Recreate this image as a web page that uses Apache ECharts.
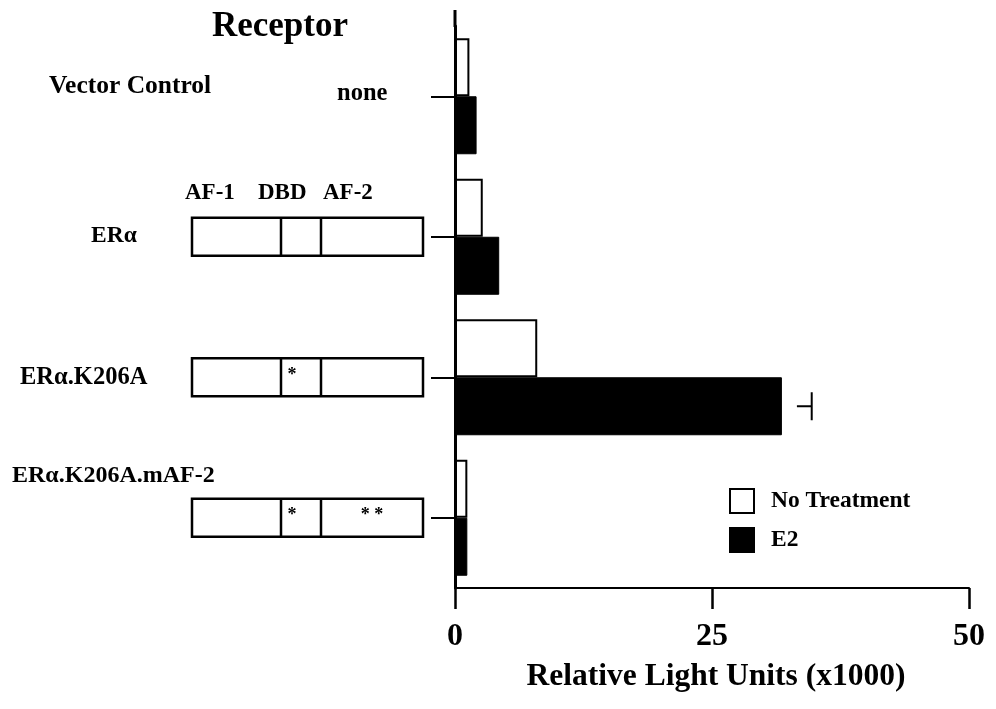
<!DOCTYPE html>
<html>
<head>
<meta charset="utf-8">
<script src="https://cdn.jsdelivr.net/npm/echarts@6/dist/echarts.min.js"></script>
<style>html,body{margin:0;padding:0;background:#fff}#c{width:996px;height:709px}</style>
</head>
<body>
<div id="c"></div>
<script>
// ---- data ----
var categories = ['Vector Control', 'ERα', 'ERα.K206A', 'ERα.K206A.mAF-2'];
var noTreatment = [1.4, 2.7, 8.0, 1.2];
var e2 = [2.1, 4.3, 31.8, 1.2];
var e2ErrorUpper = [null, null, 34.7, null];
var xTicks = [0, 25, 50];
var domainLabels = ['AF-1', 'DBD', 'AF-2'];
var constructMarks = [null, ['', '', ''], ['', '*', ''], ['', '*', '* *']];
var titleText = 'Receptor';
var xName = 'Relative Light Units (x1000)';
var legendNames = ['No Treatment', 'E2'];

var FONT = '"Liberation Serif", "Times New Roman", serif';
var chart = echarts.init(document.getElementById('c'));

var errData = [];
e2ErrorUpper.forEach(function (u, i) { if (u != null) errData.push([i, e2[i], u]); });

chart.setOption({
  animation: false,
  backgroundColor: '#fff',
  grid: { left: 455, right: 27, top: 26, bottom: 121, containLabel: false },
  legend: {
    data: legendNames,
    orient: 'vertical',
    left: 724, top: 483,
    itemWidth: 24, itemHeight: 24, itemGap: 13,
    icon: 'rect',
    textStyle: { fontFamily: FONT, fontWeight: 'bold', fontSize: 23.5, color: '#000', padding: [0, 0, 0, 12] }
  },
  xAxis: {
    type: 'value', min: xTicks[0], max: xTicks[xTicks.length - 1], interval: 25,
    axisLine: { show: true, lineStyle: { color: '#000', width: 2 } },
    axisTick: { show: true, inside: false, length: 21, lineStyle: { color: '#000', width: 2.5 } },
    splitLine: { show: false },
    axisLabel: { fontFamily: FONT, fontWeight: 'bold', fontSize: 32, color: '#000', margin: 33 },
    name: xName, nameLocation: 'middle', nameGap: 73,
    nameTextStyle: { fontFamily: FONT, fontWeight: 'bold', fontSize: 31.5, color: '#000', padding: [0, 0, 0, 8] }
  },
  yAxis: {
    type: 'category', data: categories, inverse: true,
    axisLine: { show: true, lineStyle: { color: '#000', width: 3 } },
    axisTick: { show: true, alignWithLabel: true, length: 24, lineStyle: { color: '#000', width: 2 } },
    axisLabel: { show: false },
    splitLine: { show: false }
  },
  series: [
    { name: legendNames[0], type: 'bar', data: noTreatment, barWidth: 58, barGap: '0%',
      itemStyle: { color: '#fff', borderColor: '#000', borderWidth: 2 } },
    { name: legendNames[1], type: 'bar', data: e2, barWidth: 58, barGap: '0%',
      itemStyle: { color: '#000', borderColor: '#000', borderWidth: 1 } },
    { type: 'custom', data: errData, encode: { x: [1, 2], y: 0 }, silent: true, z: 5,
      renderItem: function (params, api) {
        var m = api.coord([api.value(1), api.value(0)]);
        var u = api.coord([api.value(2), api.value(0)]);
        var yc = m[1] + 29;
        var st = { stroke: '#000', lineWidth: 2 };
        return { type: 'group', children: [
          { type: 'line', shape: { x1: m[0] + 15, y1: yc, x2: u[0], y2: yc }, style: st },
          { type: 'line', shape: { x1: u[0], y1: yc - 14, x2: u[0], y2: yc + 14 }, style: st }
        ] };
      } }
  ]
});

function py(i) { return chart.convertToPixel({ yAxisIndex: 0 }, categories[i]); }
var g = [];
var txt = function (x, y, t, size, align) {
  return { type: 'text', x: x, y: y, style: { text: t, fontFamily: FONT, fontWeight: 'bold', fontSize: size, fill: '#000', align: align || 'left', verticalAlign: 'middle' } };
};
// y axis extension above grid
var top0 = py(0) - (py(1) - py(0)) / 2;
g.push({ type: 'line', shape: { x1: 455, y1: 10, x2: 455, y2: top0 + 1 }, style: { stroke: '#000', lineWidth: 3 } });
g.push(txt(280, 27, titleText, 35, 'center'));
g.push(txt(49, py(0) - 10, categories[0], 25.5));
g.push(txt(337, py(0) - 3, 'none', 24.5));
g.push(txt(91, py(1) - 1, categories[1], 23.5));
g.push(txt(20, py(2), categories[2], 24.5));
g.push(txt(12, py(3) - 42, categories[3], 24));
var domX = [185, 258, 323];
domainLabels.forEach(function (d, k) { g.push(txt(domX[k], py(1) - 44, d, 23)); });
var boxL = 192, boxR = 423, div1 = 281, div2 = 321;
var markX = [(boxL + div1) / 2, 292, 372];
for (var i = 1; i < categories.length; i++) {
  var c = py(i);
  var st = { stroke: '#000', lineWidth: 2.5, fill: null };
  g.push({ type: 'rect', shape: { x: boxL, y: c - 19, width: boxR - boxL, height: 38 }, style: { stroke: '#000', lineWidth: 2.5, fill: '#fff' } });
  g.push({ type: 'line', shape: { x1: div1, y1: c - 19, x2: div1, y2: c + 19 }, style: st });
  g.push({ type: 'line', shape: { x1: div2, y1: c - 19, x2: div2, y2: c + 19 }, style: st });
  constructMarks[i].forEach(function (mk, k) {
    if (mk) g.push(txt(markX[k], c - 2, mk, 18, 'center'));
  });
}
chart.setOption({ graphic: g });
</script>
</body>
</html>
